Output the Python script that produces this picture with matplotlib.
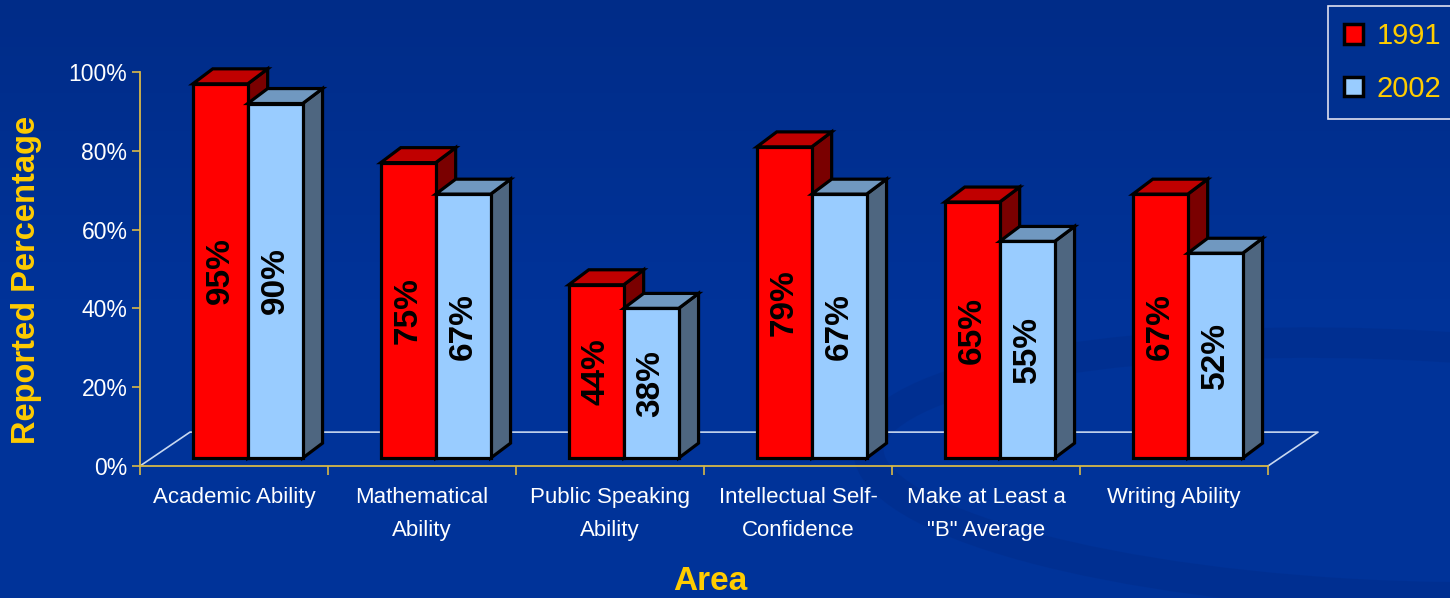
import matplotlib
matplotlib.use("Agg")
import matplotlib.pyplot as plt
import numpy as np
from matplotlib.patches import Polygon, Patch, Ellipse

plt.rcParams["font.family"] = ["Liberation Sans", "DejaVu Sans"]

# data
categories = [
    "Academic Ability",
    "Mathematical\nAbility",
    "Public Speaking\nAbility",
    "Intellectual Self-\nConfidence",
    "Make at Least a\n\"B\" Average",
    "Writing Ability",
]
vals_1991 = [95, 75, 44, 79, 65, 67]
vals_2002 = [90, 67, 38, 67, 55, 52]
series_names = ["1991", "2002"]
y_ticks = [0, 20, 40, 60, 80, 100]

BG = "#003399"
GOLD = "#FFCC00"
AXIS_GOLD = "#D8B848"
FLOOR = "#C8D8F0"
RED = ("#FF0000", "#C00000", "#7A0000")
BLUE = ("#99CCFF", "#7098C0", "#4E6680")

W, H = 1450, 598
fig = plt.figure(figsize=(W / 100, H / 100), dpi=100, facecolor=BG)

# background: slight vertical gradient plus a faint swirl bottom right
bg = fig.add_axes([0, 0, 1, 1], zorder=-10)
bg.axis("off")
grad = np.linspace(0, 1, 64).reshape(-1, 1)
cmap = matplotlib.colors.LinearSegmentedColormap.from_list("bg", ["#002C88", "#003399", "#003399"])
bg.imshow(grad, aspect="auto", cmap=cmap, extent=[0, 1, 0, 1], origin="upper")
bg.add_patch(Ellipse((1390 / W, 1 - 470 / H), 1050 / W, 250 / H, angle=-8,
                     facecolor="none", edgecolor="#002F90", lw=22, alpha=0.8))
bg.set_xlim(0, 1)
bg.set_ylim(0, 1)

ax = fig.add_axes([140 / W, 1 - 466 / H, 1128 / W, 394 / H])
ax.set_facecolor("none")
ax.set_xlim(0, 6)
ax.set_ylim(0, 100)

# 3d offsets in data units
BAR_DX, BAR_DY = 0.106, 3.8        # bar depth
BASE_DY = 2.0                      # bars stand a bit behind the front edge
FLOOR_DX, FLOOR_DY = 0.266, 8.6    # floor depth
BW = 0.292
X0 = 0.281

# floor outline
ax.plot([0, FLOOR_DX, 6 + FLOOR_DX, 6], [0, FLOOR_DY, FLOOR_DY, 0],
        color=FLOOR, lw=1.2, zorder=1, clip_on=False)


def bar3d(x, v, cols):
    y0 = BASE_DY
    y1 = BASE_DY + v
    front = [(x, y0), (x + BW, y0), (x + BW, y1), (x, y1)]
    top = [(x, y1), (x + BW, y1), (x + BW + BAR_DX, y1 + BAR_DY), (x + BAR_DX, y1 + BAR_DY)]
    side = [(x + BW, y0), (x + BW + BAR_DX, y0 + BAR_DY),
            (x + BW + BAR_DX, y1 + BAR_DY), (x + BW, y1)]
    for pts, c in [(side, cols[2]), (top, cols[1]), (front, cols[0])]:
        ax.add_patch(Polygon(pts, closed=True, facecolor=c, edgecolor="black",
                             lw=2.3, joinstyle="miter", zorder=3, clip_on=False))
    ax.text(x + BW / 2, y0 + v / 2, f"{v}%", rotation=90, ha="center", va="center",
            fontsize=24, fontweight="bold", color="black", zorder=4)


for i in range(len(categories)):
    xr = i + X0
    bar3d(xr, vals_1991[i], RED)
    bar3d(xr + BW, vals_2002[i], BLUE)

# axes styling
for s in ["top", "right"]:
    ax.spines[s].set_visible(False)
for s in ["left", "bottom"]:
    ax.spines[s].set_color(AXIS_GOLD)
    ax.spines[s].set_linewidth(1.3)
    ax.spines[s].set_zorder(2)

ax.set_yticks(y_ticks)
ax.set_yticklabels([f"{t}%" for t in y_ticks])
ax.tick_params(axis="y", colors=AXIS_GOLD, labelcolor="white", labelsize=16.5,
               length=6, width=1.2, pad=3)
ax.set_xticks(range(7))
ax.set_xticklabels([])
ax.tick_params(axis="x", which="major", colors=AXIS_GOLD, length=6.5, width=1.2)
ax.set_xticks([i + 0.5 for i in range(6)], minor=True)
ax.set_xticklabels(categories, minor=True, fontsize=16, color="white", linespacing=1.75)
ax.tick_params(axis="x", which="minor", length=0, pad=15)

fig.text(27 / W, 1 - 280 / H, "Reported Percentage", rotation=90, ha="center",
         va="center", fontsize=23.5, fontweight="bold", color=GOLD)
fig.text(710 / W, 1 - 581 / H, "Area", ha="center", va="center",
         fontsize=24, fontweight="bold", color=GOLD)

handles = [Patch(facecolor=RED[0], edgecolor="black", lw=2.5),
           Patch(facecolor=BLUE[0], edgecolor="black", lw=2.5)]
leg = fig.legend(handles, series_names, loc="upper left",
                 bbox_to_anchor=(1328 / W, 1 - 6 / H), fontsize=21,
                 frameon=True, fancybox=False, facecolor="#003090", edgecolor="#E0E0F0",
                 framealpha=1, handlelength=0.66, handleheight=0.66,
                 handletextpad=0.45, labelspacing=0.85, borderpad=0.55,
                 borderaxespad=0)
leg.get_frame().set_linewidth(1.2)
for t in leg.get_texts():
    t.set_color(GOLD)

fig.savefig("out.png", dpi=100, facecolor=BG)
